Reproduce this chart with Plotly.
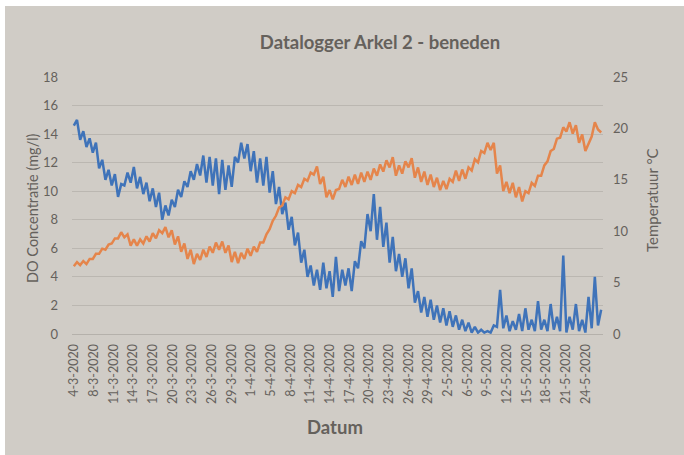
import plotly.graph_objects as go
import pandas as pd

# Half-daily readings (every 12 h) starting 4-3-2020 21:00
start_time = "2020-03-04 21:00"
step = "12h"

do_mg_l = [14.6,15.0, 13.6,14.2, 13.1,13.7, 12.7,13.4, 11.6,12.2, 10.8,11.5, 10.4,11.2, 9.6,10.5, 10.4,11.3, 10.6,11.7,
           10.2,11.0, 9.8,10.6, 9.3,10.2, 8.9,9.9, 8.0,9.0, 8.3,9.4, 8.9,10.1, 9.6,10.7, 10.3,11.4, 10.8,11.9,
           11.1,12.5, 10.6,12.4, 10.4,12.3, 9.8,12.2, 10.1,11.8, 10.3,12.4, 12.0,13.4, 12.3,13.3, 11.4,12.8, 10.6,12.3,
           10.4,12.4, 9.9,11.4, 9.1,10.3, 8.4,9.2, 7.3,8.2, 6.2,7.1, 5.0,5.9, 4.0,4.8, 3.4,4.5, 3.1,5.0,
           3.2,4.4, 2.6,5.4, 3.0,4.5, 3.4,4.6, 3.0,5.1, 4.6,6.5, 6.0,8.4, 7.2,9.8, 6.6,8.9, 6.1,7.8,
           5.0,6.8, 4.4,5.6, 4.0,5.3, 3.2,4.6, 2.2,3.0, 1.5,2.6, 1.2,2.4, 1.0,2.0, 0.8,1.8, 0.6,1.6,
           0.5,1.3, 0.3,1.0, 0.2,0.8, 0.1,0.5, 0.1,0.3, 0.1,0.2, 0.1,0.6, 0.5,3.1, 0.4,1.3, 0.2,0.9,
           0.3,1.4, 0.2,1.8, 0.3,1.0, 0.2,2.3, 0.3,1.0, 0.2,2.1, 0.3,1.2, 0.2,5.5, 0.1,1.2, 0.3,2.1,
           0.2,1.0, 0.1,2.6, 0.4,4.0, 0.6,1.7]

temp_c = [6.6,7.0, 6.7,7.1, 6.8,7.3, 7.3,7.8, 7.8,8.3, 8.2,8.7, 8.8,9.3, 9.3,9.9, 9.4,9.7, 8.6,9.2,
          8.6,9.2, 8.8,9.5, 9.0,9.8, 9.3,10.1, 9.8,10.4, 9.4,10.1, 8.7,9.5, 8.0,8.8, 7.3,8.2, 6.8,7.8,
          7.2,8.2, 7.5,8.5, 7.9,8.9, 8.2,9.0, 7.9,8.6, 7.0,8.0, 6.9,7.9, 7.3,8.3, 7.6,8.5, 8.0,8.9,
          8.9,9.7, 10.2,11.0, 11.5,12.3, 12.5,13.3, 13.1,13.9, 13.7,14.5, 14.3,15.1, 14.9,15.7, 15.5,16.3, 14.6,15.3,
          13.3,14.0, 13.1,14.0, 14.1,15.0, 14.3,15.3, 14.5,15.5, 14.6,15.7, 14.8,15.8, 15.0,16.1, 15.4,16.5, 15.8,16.9,
          16.2,17.2, 15.4,16.4, 15.6,16.8, 16.2,17.1, 15.2,16.2, 14.8,15.8, 14.5,15.5, 14.3,15.2, 14.0,14.9, 14.1,15.1,
          14.8,15.9, 14.9,16.0, 15.1,16.2, 15.9,17.0, 16.7,17.8, 17.6,18.6, 17.9,18.6, 15.6,16.4, 13.9,14.8, 13.7,14.7,
          13.3,14.3, 12.9,13.9, 13.7,14.7, 14.4,15.4, 15.4,16.4, 16.8,17.8, 18.0,19.0, 19.1,20.1, 19.7,20.6, 19.5,20.3,
          18.6,19.4, 17.8,18.6, 19.2,20.6, 19.9,19.6]

tick_labels = ["4-3-2020", "8-3-2020", "11-3-2020", "14-3-2020", "17-3-2020", "20-3-2020",
               "23-3-2020", "26-3-2020", "29-3-2020", "1-4-2020", "5-4-2020", "8-4-2020",
               "11-4-2020", "14-4-2020", "17-4-2020", "20-4-2020", "23-4-2020", "26-4-2020",
               "29-4-2020", "2-5-2020", "6-5-2020", "9-5-2020", "12-5-2020", "15-5-2020",
               "18-5-2020", "21-5-2020", "24-5-2020"]
tick_start = "2020-03-04 22:00"
tick_interval = "4485min"  # category label interval of the original axis

times = pd.date_range(start=start_time, periods=len(do_mg_l), freq=step)
tick_vals = pd.date_range(start=tick_start, periods=len(tick_labels), freq=tick_interval)

BLUE = "#3f73b9"
ORANGE = "#e5854b"
TXT = "#65615c"
BG = "#d0ccc6"
FONT = "Lato"

fig = go.Figure()
fig.add_trace(go.Scatter(x=times, y=do_mg_l, mode="lines", name="DO",
                         line=dict(color=BLUE, width=2.5), yaxis="y"))
fig.add_trace(go.Scatter(x=times, y=temp_c, mode="lines", name="Temperatuur",
                         line=dict(color=ORANGE, width=2.5), yaxis="y2"))

L, T, W, H = 72, 77, 531, 257
pad = pd.Timedelta(hours=7)

fig.update_layout(
    width=684, height=455,
    margin=dict(l=L, r=684 - L - W, t=T, b=455 - T - H),
    paper_bgcolor="white",
    plot_bgcolor="rgba(0,0,0,0)",
    showlegend=False,
    font=dict(family=FONT, color=TXT, size=12),
    title=dict(text="<b>Datalogger Arkel 2 - beneden</b>", x=380 / 684, xanchor="center",
               y=1 - 43 / 455, yanchor="middle", font=dict(size=18.5, color=TXT, family=FONT)),
    xaxis=dict(type="date", range=[times[0] - pad, times[-1] + pad],
               tickmode="array", tickvals=tick_vals, ticktext=tick_labels,
               tickangle=-90, tickfont=dict(size=12.5, color=TXT),
               showgrid=False, zeroline=False, showline=True, linecolor="#b5b1ab",
               ticks="", ticklabelstandoff=4),
    yaxis=dict(range=[0, 18], dtick=2, showgrid=True, gridcolor="#bbb7b1", gridwidth=1,
               zeroline=False, ticks="", tickfont=dict(size=13, color=TXT),
               ticklabelstandoff=13),
    yaxis2=dict(range=[0, 25], dtick=5, overlaying="y", side="right", showgrid=False,
                zeroline=False, ticks="", tickfont=dict(size=13, color=TXT),
                ticklabelstandoff=9),
    shapes=[dict(type="rect", xref="paper", yref="paper",
                 x0=(5 - L) / W, x1=(700 - L) / W, y0=(T + H - 470) / H, y1=(T + H - 6) / H,
                 fillcolor=BG, line=dict(width=0), layer="below")],
    annotations=[
        dict(text="DO Concentratie (mg/l)", xref="paper", yref="paper",
             x=(32 - L) / W, y=(T + H - 208) / H, textangle=-90, showarrow=False,
             xanchor="center", yanchor="middle", font=dict(size=14.5, color=TXT, family=FONT)),
        dict(text="Temperatuur °C", xref="paper", yref="paper",
             x=(652 - L) / W, y=(T + H - 200) / H, textangle=-90, showarrow=False,
             xanchor="center", yanchor="middle", font=dict(size=15, color=TXT, family=FONT)),
        dict(text="<b>Datum</b>", xref="paper", yref="paper",
             x=(335 - L) / W, y=(T + H - 427) / H, showarrow=False,
             xanchor="center", yanchor="middle", font=dict(size=18.5, color=TXT, family=FONT)),
    ],
)

fig.write_html("out.html", config={"displayModeBar": False},
               post_script="document.body.style.margin='0px';")
